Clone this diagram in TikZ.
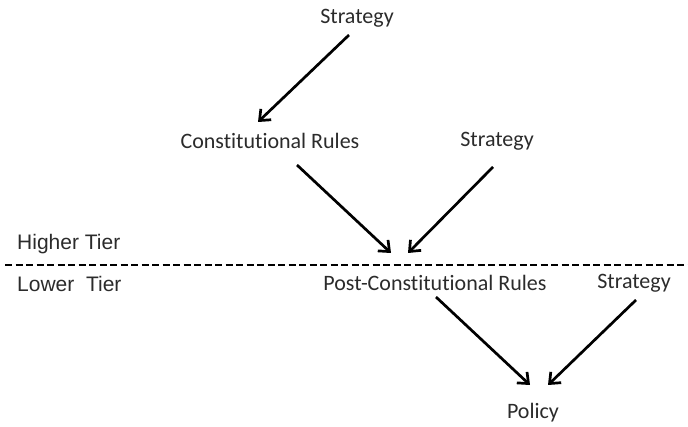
\documentclass[tikz,border=0pt]{standalone}
\usepackage{fontspec}
\setmainfont{Carlito}[Ligatures=NoCommon]
\newfontfamily\tierfont{Liberation Sans}
\usetikzlibrary{arrows.meta}
\definecolor{txt}{HTML}{2B2B2B}
\begin{document}
\begin{tikzpicture}[x=1pt,y=-1pt,
  lbl/.style={font=\fontsize{22}{24}\selectfont, inner sep=0pt, text=txt},
  tier/.style={font=\tierfont\fontsize{21}{24}\selectfont, inner sep=0pt, anchor=west, text=txt},
  arr/.style={line width=2.7pt, -{Straight Barb[length=9pt,width=15pt,line width=2.7pt]}}]
\useasboundingbox (0,0) rectangle (688,427);
\node[lbl] (s1) at (357,18) {Strategy};
\node[lbl] (cr) at (270,141) {Constitutional Rules};
\node[lbl] (s2) at (497,141) {Strategy};
\node[lbl] (pcr) at (435,283) {Post-Constitutional Rules};
\node[lbl] (s3) at (634,283) {Strategy};
\node[lbl] (pol) at (533,413) {Policy};
\node[tier] (ht) at (17,244) {Higher Tier};
\node[tier] (lt) at (17,284) {Lower\ \ Tier};
\coordinate (dl) at (5,265);
\coordinate (dr) at (688,265);
\draw[line width=2.7pt, dash pattern=on 7pt off 3.5pt] (dl) -- (dr);
\coordinate (a1) at (349,35);  \coordinate (b1) at (258,122);
\coordinate (a2) at (297,165); \coordinate (b2) at (391,253);
\coordinate (a3) at (493,167); \coordinate (b3) at (408,253);
\coordinate (a4) at (436,297); \coordinate (b4) at (530,385);
\coordinate (a5) at (636,300); \coordinate (b5) at (548,385);
\draw[arr] (a1) -- (b1);
\draw[arr] (a2) -- (b2);
\draw[arr] (a3) -- (b3);
\draw[arr] (a4) -- (b4);
\draw[arr] (a5) -- (b5);
\end{tikzpicture}
\end{document}
